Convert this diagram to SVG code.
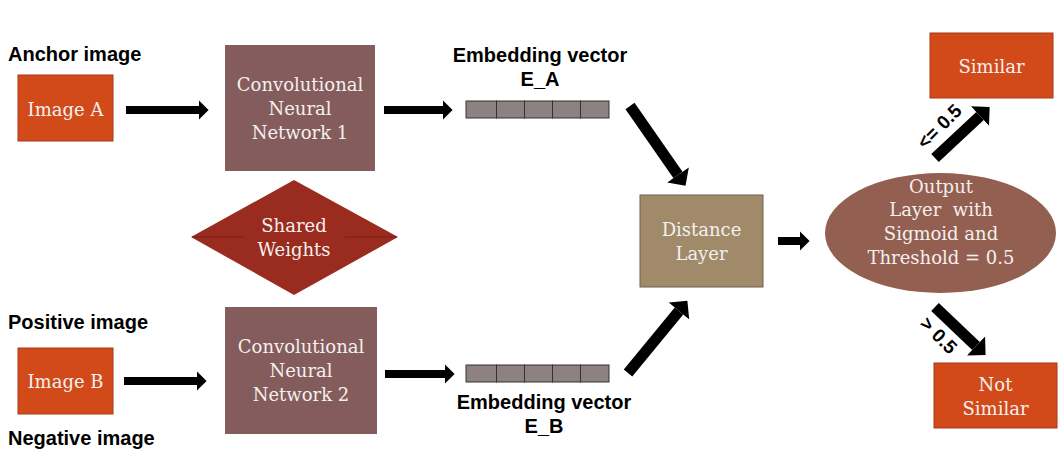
<svg xmlns="http://www.w3.org/2000/svg" width="1064" height="457" viewBox="0 0 1064 457">
<defs>
<marker id="ah" viewBox="0 0 10 20" refX="0" refY="10" markerWidth="1.25" markerHeight="2.4" orient="auto" markerUnits="strokeWidth">
<path d="M0,0 L10,10 L0,20 z" fill="#000"/>
</marker>
<style>
.img{fill:#D24A19;stroke:#A8391A;stroke-width:1}
.cnn{fill:#845C5C}
.cell{fill:#8E8181;stroke:#333;stroke-width:1}
.lbl{font-family:"Liberation Sans",Arial,sans-serif;font-weight:bold;font-size:20px;fill:#000}
.wt{font-family:"DejaVu Serif","Liberation Serif",serif;font-size:18px;fill:#F4F0EE;text-anchor:middle}
.ar{stroke:#000;fill:none;marker-end:url(#ah)}
.ar8{stroke-width:8}
.ar11{stroke-width:11}
.sm{font-family:"Liberation Sans",Arial,sans-serif;font-weight:bold;font-size:19px;fill:#000;text-anchor:middle}
</style>
</defs>
<rect width="1064" height="457" fill="#fff"/>

<g id="connectors">
<line class="ar ar8" x1="126" y1="110" x2="199" y2="110"/>
<line class="ar ar8" x1="124" y1="381" x2="197" y2="381"/>
<line class="ar ar8" x1="384" y1="110" x2="443" y2="110"/>
<line class="ar ar8" x1="385" y1="374" x2="445" y2="374"/>
<line class="ar ar8" x1="778" y1="241" x2="800" y2="241"/>
<line class="ar ar11" x1="630" y1="106" x2="678" y2="175"/>
<line class="ar ar11" x1="628" y1="373" x2="679" y2="311"/>
<line class="ar ar11" x1="935" y1="158" x2="980" y2="116"/>
<line class="ar ar11" x1="935" y1="307" x2="976" y2="346"/>
<text class="sm" transform="translate(944,131) rotate(-45)">&lt;= 0.5</text>
<text class="sm" transform="translate(934,340) rotate(45)">&gt; 0.5</text>
</g>

<g id="anchorLabel"><text class="lbl" x="8" y="61">Anchor image</text></g>
<g id="positiveLabel"><text class="lbl" x="8" y="329">Positive image</text></g>
<g id="negativeLabel"><text class="lbl" x="8" y="445">Negative image</text></g>

<g id="imageA">
<rect class="img" x="18" y="75" width="95" height="66"/>
<text class="wt" x="65.5" y="116">Image A</text>
</g>
<g id="imageB">
<rect class="img" x="18" y="348" width="95" height="66"/>
<text class="wt" x="65.5" y="388">Image B</text>
</g>

<g id="cnn1">
<rect class="cnn" x="225" y="45" width="150" height="126"/>
<text class="wt" x="300" y="91">Convolutional</text>
<text class="wt" x="300" y="115">Neural</text>
<text class="wt" x="300" y="139">Network 1</text>
</g>
<g id="cnn2">
<rect class="cnn" x="225" y="307" width="152" height="127"/>
<text class="wt" x="301" y="353">Convolutional</text>
<text class="wt" x="301" y="377">Neural</text>
<text class="wt" x="301" y="401">Network 2</text>
</g>

<g id="sharedWeights">
<polygon points="294,180 398,237 294,295 191,237" fill="#9A2B1F"/>
<line x1="192" y1="237" x2="244" y2="237" stroke="#7A2018" stroke-width="1"/>
<line x1="345" y1="237" x2="397" y2="237" stroke="#7A2018" stroke-width="1"/>
<text class="wt" x="294" y="232">Shared</text>
<text class="wt" x="294" y="256">Weights</text>
</g>

<g id="embeddingA">
<text class="lbl" x="540" y="62" text-anchor="middle">Embedding vector</text>
<text class="lbl" x="540" y="86" text-anchor="middle">E_A</text>
<rect class="cell" x="466" y="101" width="30.5" height="17"/>
<rect class="cell" x="496.5" y="101" width="28" height="17"/>
<rect class="cell" x="524.5" y="101" width="28" height="17"/>
<rect class="cell" x="552.5" y="101" width="28" height="17"/>
<rect class="cell" x="580.5" y="101" width="28.5" height="17"/>
</g>
<g id="embeddingB">
<rect class="cell" x="466" y="365" width="30.5" height="17"/>
<rect class="cell" x="496.5" y="365" width="28" height="17"/>
<rect class="cell" x="524.5" y="365" width="28" height="17"/>
<rect class="cell" x="552.5" y="365" width="28" height="17"/>
<rect class="cell" x="580.5" y="365" width="28.5" height="17"/>
<text class="lbl" x="544" y="409" text-anchor="middle">Embedding vector</text>
<text class="lbl" x="544" y="433" text-anchor="middle">E_B</text>
</g>

<g id="distanceLayer">
<rect x="640" y="195" width="123" height="92" fill="#A08A6A" stroke="#6F5F48" stroke-width="1"/>
<text class="wt" x="701.5" y="236">Distance</text>
<text class="wt" x="701.5" y="260">Layer</text>
</g>

<g id="outputLayer">
<ellipse cx="940.5" cy="233" rx="115.5" ry="60" fill="#935F50"/>
<text class="wt" x="941" y="193">Output</text>
<text class="wt" x="941" y="216" xml:space="preserve">Layer  with</text>
<text class="wt" x="941" y="240">Sigmoid and</text>
<text class="wt" x="941" y="264">Threshold = 0.5</text>
</g>

<g id="similar">
<rect class="img" x="930" y="33" width="123" height="65"/>
<text class="wt" x="991.5" y="73">Similar</text>
</g>
<g id="notSimilar">
<rect class="img" x="934" y="363" width="123" height="65"/>
<text class="wt" x="995.5" y="391">Not</text>
<text class="wt" x="995.5" y="415">Similar</text>
</g>
</svg>
